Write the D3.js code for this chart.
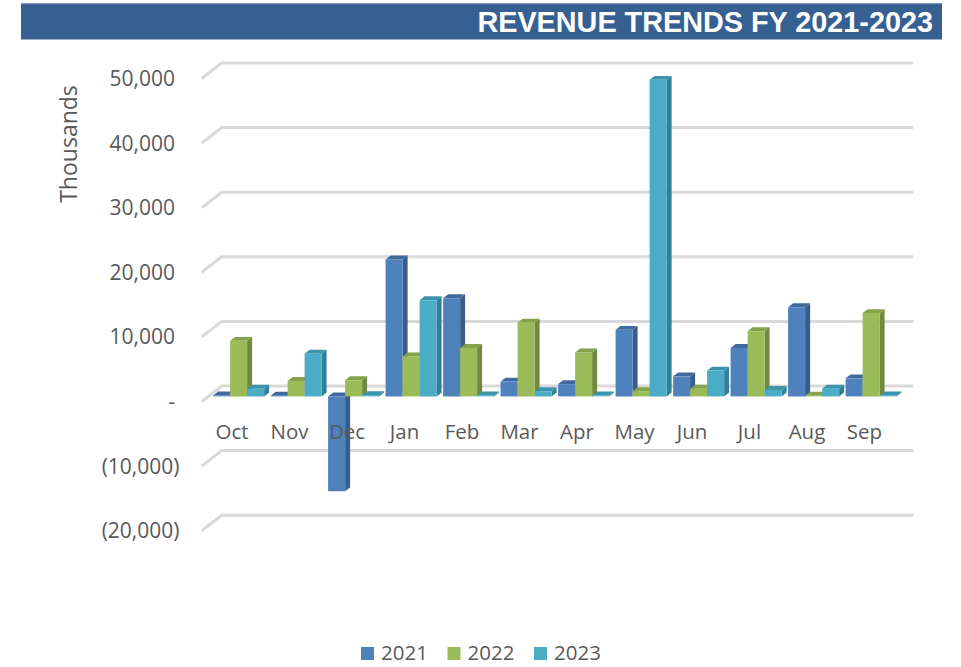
<!DOCTYPE html>
<html>
<head>
<meta charset="utf-8">
<script src="https://cdn.jsdelivr.net/npm/d3@7"></script>
<style>
  body { margin: 0; background: #fff; }
  svg { display: block; font-family: "Open Sans", "Noto Sans", sans-serif; }
</style>
</head>
<body>
<svg width="961" height="667"></svg>
<script>
const months = ["Oct", "Nov", "Dec", "Jan", "Feb", "Mar", "Apr", "May", "Jun", "Jul", "Aug", "Sep"];
const years = ["2021", "2022", "2023"];
const rev2021 = [150, 100, -14700, 21200, 15200, 2300, 1900, 10300, 3100, 7500, 13800, 2800];
const rev2022 = [8600, 2400, 2500, 6200, 7500, 11400, 6800, 800, 1200, 10100, 100, 12900];
const rev2023 = [1200, 6600, 200, 14900, 150, 800, 150, 49000, 4000, 1000, 1200, 150];
const yTicks = [-20000, -10000, 0, 10000, 20000, 30000, 40000, 50000];

const series = [rev2021, rev2022, rev2023];
const colors = {
  "2021": {front: "#4f81bd", side: "#385d8a", top: "#41699c"},
  "2022": {front: "#9bbb59", side: "#71893f", top: "#84a24a"},
  "2023": {front: "#4bacc6", side: "#31809a", top: "#3d93aa"}
};

const svg = d3.select("svg");

// depth of the 3d box (front plane -> back wall)
const DX = 20, DY = -15.5;
const f1 = 0.33, f2 = 0.58;   // front / back face of the columns

const x = d3.scaleBand().domain(months).range([203.25, 893.25]).paddingInner(0.113).paddingOuter(0.0565);
const xs = d3.scaleBand().domain(years).range([0, x.bandwidth()]);
const y = d3.scaleLinear().domain([-20000, 50000]).range([530.7, 78.5]);

const pt = (px, py, d) => [px + d * DX, py + d * DY];

// title bar
svg.append("rect")
  .attr("x", 21).attr("y", 3.5).attr("width", 921).attr("height", 36)
  .attr("fill", "#366092");
svg.append("line")
  .attr("x1", 21).attr("x2", 942).attr("y1", 3.8).attr("y2", 3.8)
  .attr("stroke", "#6f8db3").attr("stroke-width", 1);
svg.append("text")
  .attr("x", 933).attr("y", 32)
  .attr("text-anchor", "end")
  .attr("fill", "#fff")
  .attr("font-family", "'Liberation Sans', Arial, sans-serif")
  .attr("font-weight", "bold")
  .attr("font-size", 28.8)
  .text("REVENUE TRENDS FY 2021-2023");

// gridlines on wall
const xl = x.range()[0] - 1.5, xr = x.range()[1];
svg.append("g").selectAll("path")
  .data(yTicks)
  .join("path")
  .attr("d", v => d3.line()([pt(xl, y(v), 0), pt(xl, y(v), 1), pt(xr, y(v), 1)]))
  .attr("fill", "none")
  .attr("stroke", "#d9d9d9")
  .attr("stroke-width", 3);

// value labels
const fmt = d3.format(",");
svg.append("g").selectAll("text")
  .data(yTicks)
  .join("text")
  .attr("x", v => v < 0 ? 179.5 : 175)
  .attr("y", v => y(v) + 7.5)
  .attr("text-anchor", "end")
  .attr("fill", "#595959")
  .attr("font-size", 21)
  .text(v => v === 0 ? "-" : v < 0 ? "(" + fmt(-v) + ")" : fmt(v));

svg.append("text")
  .attr("transform", "translate(77,144) rotate(-90)")
  .attr("text-anchor", "middle")
  .attr("fill", "#595959")
  .attr("font-size", 23)
  .text("Thousands");

// columns
const bars = [];
months.forEach((m, i) => {
  years.forEach((yr, j) => {
    bars.push({month: m, year: yr, value: series[j][i]});
  });
});

const barG = svg.append("g");
bars.forEach(b => {
  const x0 = x(b.month) + xs(b.year);
  const x1 = x0 + xs.bandwidth();
  const yt = y(Math.max(b.value, 0));
  const yb = y(Math.min(b.value, 0));
  const c = colors[b.year];
  const g = barG.append("g");
  g.append("path")
    .attr("d", d3.line()([pt(x1, yt, f1), pt(x1, yt, f2), pt(x1, yb, f2), pt(x1, yb, f1)]) + "Z")
    .attr("fill", c.side);
  g.append("path")
    .attr("d", d3.line()([pt(x0, yt, f1), pt(x1, yt, f1), pt(x1, yt, f2), pt(x0, yt, f2)]) + "Z")
    .attr("fill", c.top);
  g.append("path")
    .attr("d", d3.line()([pt(x0, yt, f1), pt(x1, yt, f1), pt(x1, yb, f1), pt(x0, yb, f1)]) + "Z")
    .attr("fill", c.front);
});

// month labels sit over the columns (Dec text shows on top of the negative bar)
svg.append("g").selectAll("text")
  .data(months)
  .join("text")
  .attr("x", m => x(m) + x.bandwidth() / 2)
  .attr("y", 439)
  .attr("text-anchor", "middle")
  .attr("fill", "#595959")
  .attr("font-size", 20.5)
  .text(m => m);

// legend
const legend = svg.append("g").selectAll("g")
  .data(years)
  .join("g")
  .attr("transform", (d, i) => `translate(${361 + i * 86.5},647)`);
legend.append("rect")
  .attr("width", 13).attr("height", 13)
  .attr("fill", d => colors[d].front);
legend.append("text")
  .attr("x", 20).attr("y", 13)
  .attr("fill", "#595959")
  .attr("font-size", 20.5)
  .text(d => d);
</script>
</body>
</html>
